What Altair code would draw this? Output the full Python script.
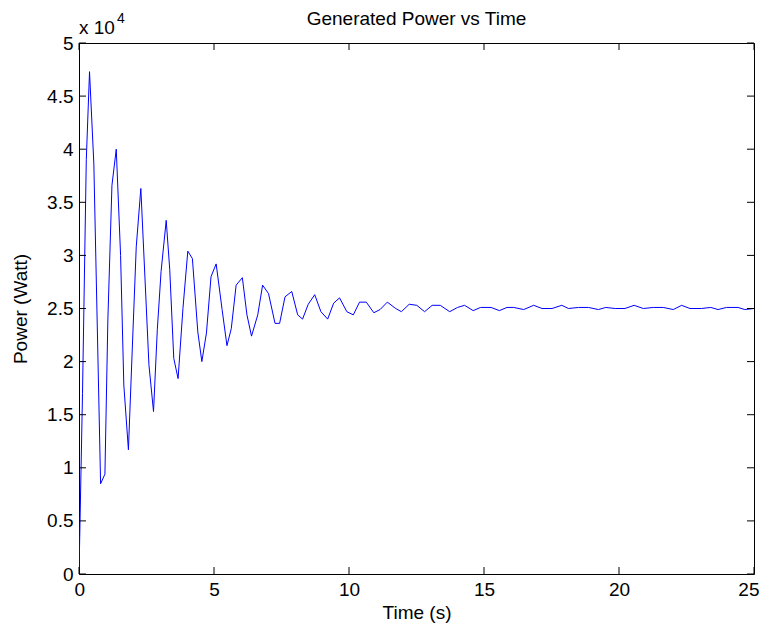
import altair as alt
import pandas as pd

# Time (s) and generated power (x 10^4 W)
time_s = [0, 0.13, 0.27, 0.39, 0.55, 0.80, 0.96, 1.07, 1.22, 1.38, 1.54, 1.66, 1.83, 1.97,
          2.12, 2.29, 2.45, 2.59, 2.76, 2.90, 3.04, 3.23, 3.36, 3.51, 3.67, 3.85, 4.03, 4.20,
          4.40, 4.55, 4.72, 4.89, 5.08, 5.30, 5.48, 5.64, 5.82, 6.05, 6.22, 6.39, 6.62, 6.80,
          7.02, 7.26, 7.43, 7.63, 7.88, 8.10, 8.28, 8.49, 8.73, 8.96, 9.21, 9.43, 9.65, 9.92,
          10.16, 10.39, 10.64, 10.92, 11.15, 11.42, 11.73, 11.94, 12.23, 12.51, 12.80, 13.08,
          13.38, 13.73, 14.02, 14.28, 14.60, 14.87, 15.26, 15.57, 15.85, 16.10, 16.47, 16.84,
          17.15, 17.52, 17.88, 18.13, 18.50, 18.87, 19.24, 19.51, 19.86, 20.22, 20.56, 20.90,
          21.27, 21.64, 22.01, 22.32, 22.63, 23.05, 23.40, 23.67, 23.98, 24.41, 24.66, 25.0]
power = [0, 1.7, 3.9, 4.73, 3.86, 0.85, 0.94, 2.4, 3.66, 4.0, 3.0, 1.78, 1.17, 2.1,
         3.08, 3.63, 2.75, 1.97, 1.53, 2.3, 2.85, 3.33, 2.87, 2.03, 1.84, 2.5, 3.04, 2.97,
         2.28, 2.0, 2.27, 2.8, 2.92, 2.49, 2.15, 2.31, 2.72, 2.79, 2.44, 2.24, 2.44, 2.72,
         2.64, 2.36, 2.36, 2.61, 2.66, 2.44, 2.40, 2.54, 2.63, 2.47, 2.40, 2.55, 2.60, 2.47,
         2.44, 2.56, 2.56, 2.46, 2.49, 2.56, 2.50, 2.47, 2.54, 2.53, 2.47, 2.53,
         2.53, 2.47, 2.51, 2.53, 2.48, 2.51, 2.51, 2.48, 2.51, 2.51, 2.49, 2.53,
         2.50, 2.50, 2.53, 2.50, 2.51, 2.51, 2.49, 2.51, 2.50, 2.50, 2.53, 2.50,
         2.51, 2.51, 2.49, 2.53, 2.50, 2.50, 2.51, 2.49, 2.51, 2.51, 2.49, 2.50]

x_ticks = [0, 5, 10, 15, 20, 25]
y_ticks = [0, 0.5, 1, 1.5, 2, 2.5, 3, 3.5, 4, 4.5, 5]

W, H = 675, 531
FONT = "Liberation Sans"
FS = 19
TL = 7

df = pd.DataFrame({"t": time_s, "p": power})
xs = alt.Scale(domain=[0, 25], nice=False, zero=False)
ys = alt.Scale(domain=[0, 5], nice=False, zero=False)

line = alt.Chart(df).mark_line(color="#0000ff", strokeWidth=1, clip=True).encode(
    x=alt.X("t:Q", scale=xs,
            axis=alt.Axis(title="Time (s)", values=x_ticks, ticks=False, domain=False,
                          grid=False, labelPadding=6, titlePadding=4, format="d",
                          labelFlush=True, labelFlushOffset=5)),
    y=alt.Y("p:Q", scale=ys,
            axis=alt.Axis(title="Power (Watt)", values=y_ticks, ticks=False, domain=False,
                          grid=False, labelPadding=6, titlePadding=16, labelFlush=False,
                          labelExpr="datum.value == 0 ? '0' : format(datum.value, '~g')")),
)

xt = pd.DataFrame({"v": x_ticks})
yt = pd.DataFrame({"v": y_ticks})
tick_bottom = alt.Chart(xt).mark_rule(color="black", strokeWidth=1).encode(
    x=alt.X("v:Q", scale=xs), y=alt.value(H), y2=alt.value(H - TL))
tick_top = alt.Chart(xt).mark_rule(color="black", strokeWidth=1).encode(
    x=alt.X("v:Q", scale=xs), y=alt.value(0), y2=alt.value(TL))
tick_left = alt.Chart(yt).mark_rule(color="black", strokeWidth=1).encode(
    y=alt.Y("v:Q", scale=ys), x=alt.value(0), x2=alt.value(TL))
tick_right = alt.Chart(yt).mark_rule(color="black", strokeWidth=1).encode(
    y=alt.Y("v:Q", scale=ys), x=alt.value(W), x2=alt.value(W - TL))

mult = alt.Chart(pd.DataFrame({"s": ["x 10"]})).mark_text(
    font=FONT, fontSize=FS, align="left", baseline="alphabetic", color="black").encode(
    text="s:N", x=alt.value(0), y=alt.value(-9))
expo = alt.Chart(pd.DataFrame({"s": ["4"]})).mark_text(
    font=FONT, fontSize=14, align="left", baseline="alphabetic", color="black").encode(
    text="s:N", x=alt.value(38), y=alt.value(-20))

chart = alt.layer(line, tick_bottom, tick_top, tick_left, tick_right, mult, expo).properties(
    width=W, height=H,
    title=alt.TitleParams("Generated Power vs Time", font=FONT, fontSize=FS,
                          fontWeight="normal", color="black", offset=0, dy=17),
    autosize=alt.AutoSizeParams(type="none"),
    padding={"left": 71, "top": 35, "right": 5, "bottom": 50},
    background="white",
).configure_view(stroke="black", strokeWidth=1).configure_axis(
    labelFont=FONT, labelFontSize=FS, labelColor="black",
    titleFont=FONT, titleFontSize=FS, titleFontWeight="normal", titleColor="black",
)

chart.save("out.html", embed_options={"renderer": "svg", "actions": False})
